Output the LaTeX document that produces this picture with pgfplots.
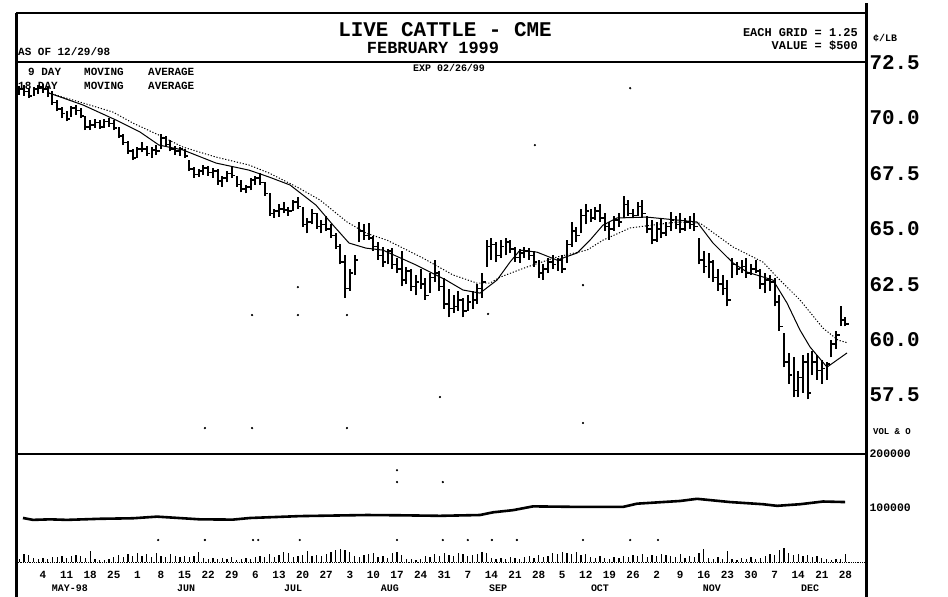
\documentclass[border=0pt]{standalone}
\usepackage{pgfplots}
\pgfplotsset{compat=1.18}
\usepackage{pgfplotstable}
\usepackage{fontspec}
\setmainfont{Liberation Serif}
\newfontfamily\lmono{Liberation Mono}

\pgfdeclareplotmark{closetick}{\pgfpathmoveto{\pgfpoint{0pt}{0pt}}\pgfpathlineto{\pgfpoint{3.6bp}{0pt}}\pgfusepathqstroke}

% t = trading days since May 4 1998; high, low, close (cents/lb); volume (contracts)
\pgfplotstableread{
t h l c v
-5 71.45 71.05 71.30 5600
-4 71.50 71.00 71.20 14800
-3 71.35 70.90 71.00 13000
-2 71.40 71.00 71.30 7400
-1 71.50 71.10 71.40 5600
0 71.55 71.15 71.30 7400
1 71.40 70.95 71.10 5600
2 71.20 70.60 70.70 9300
3 70.80 70.30 70.40 9300
4 70.50 70.00 70.20 11100
5 70.30 69.85 69.95 7400
6 70.55 70.05 70.45 11100
7 70.60 70.15 70.35 13000
8 70.45 70.00 70.10 11100
9 70.10 69.45 69.60 7400
10 69.90 69.45 69.70 20400
11 69.95 69.55 69.80 5600
12 69.90 69.50 69.60 3700
13 69.95 69.55 69.85 3700
14 70.00 69.60 69.75 5600
15 69.90 69.45 69.55 9300
16 69.60 69.10 69.20 13000
17 69.30 68.80 68.90 9300
18 68.95 68.40 68.50 14800
19 68.60 68.10 68.20 11100
20 68.70 68.20 68.60 16700
21 68.90 68.45 68.60 11100
22 68.75 68.30 68.40 14800
23 68.70 68.20 68.55 9300
24 68.80 68.35 68.50 16700
25 69.30 68.60 69.10 11100
26 69.20 68.70 68.80 9300
27 69.00 68.50 68.60 14800
28 68.75 68.35 68.50 11100
29 68.70 68.30 68.60 9300
30 68.60 68.20 68.30 11100
31 68.10 67.60 67.70 9300
32 67.80 67.30 67.45 11100
33 67.70 67.35 67.60 18500
34 67.90 67.45 67.75 7400
35 67.85 67.40 67.55 5600
36 67.75 67.30 67.60 7400
37 67.70 67.00 67.15 5600
38 67.40 66.90 67.30 7400
39 67.60 67.10 67.50 5600
40 67.80 67.30 67.40 9300
41 67.40 66.90 67.00 3700
42 67.20 66.65 66.80 5600
43 67.00 66.60 66.90 7400
44 67.30 66.75 67.20 5600
45 67.40 67.00 67.30 9300
46 67.50 67.00 67.10 11100
47 67.10 66.50 66.60 9300
48 66.60 65.60 65.70 14800
49 65.90 65.50 65.80 9300
50 66.10 65.55 65.90 13000
51 66.20 65.70 65.85 18500
52 66.00 65.60 65.80 16700
53 66.30 65.80 66.20 9300
54 66.45 65.90 66.00 11100
55 66.00 65.10 65.20 13000
56 65.50 64.80 65.30 20400
57 65.90 65.20 65.70 11100
58 65.70 65.00 65.10 13000
59 65.40 64.80 65.20 11100
60 65.60 64.90 65.00 14800
61 65.20 64.60 64.70 18500
62 64.80 64.10 64.20 22200
63 64.30 63.40 63.50 24100
64 63.80 61.90 62.30 22200
65 63.20 62.20 63.00 18500
66 63.80 62.90 63.60 11100
67 65.30 64.40 64.90 9300
68 65.20 64.50 64.70 13000
69 65.25 64.50 64.60 14800
70 64.70 64.00 64.20 16700
71 64.40 63.60 63.80 9300
72 64.20 63.30 63.50 11100
73 64.10 63.40 64.00 7400
74 64.15 63.20 63.40 16700
75 63.70 63.00 63.20 18500
76 64.00 62.40 62.70 13000
77 63.30 62.50 63.10 5600
78 63.20 62.20 62.40 5600
79 62.90 62.00 62.60 3700
80 63.20 62.30 62.50 5600
81 62.80 61.80 62.00 11100
82 63.00 62.10 62.80 9300
83 63.60 62.60 63.00 14800
84 63.10 62.20 62.40 11100
85 62.80 61.40 61.60 16700
86 62.30 61.00 61.40 13000
87 62.00 61.20 61.50 11100
88 62.20 61.30 61.80 16700
89 61.90 61.00 61.30 14800
90 62.00 61.30 61.70 11100
91 62.20 61.40 61.80 13000
92 62.50 61.60 62.30 14800
93 63.00 61.90 62.60 18500
94 64.50 63.30 64.20 16700
95 64.60 63.60 64.30 7400
96 64.40 63.50 63.80 5600
97 64.50 63.70 64.20 7400
98 64.60 63.80 64.40 5600
99 64.50 63.90 64.10 9300
100 64.20 63.50 63.70 7400
101 64.10 63.45 63.90 5600
102 64.20 63.70 64.00 9300
103 64.15 63.60 63.80 11100
104 64.00 63.30 63.50 7400
105 63.60 62.80 63.00 13000
106 63.40 62.70 63.20 9300
107 63.70 63.00 63.50 11100
108 63.80 63.20 63.40 16700
109 63.70 63.10 63.60 14800
110 63.80 63.00 63.20 18500
111 64.50 63.45 64.30 16700
112 65.30 64.20 64.90 14800
113 65.10 64.40 64.70 18500
114 65.90 64.80 65.60 13000
115 66.10 65.20 65.80 14800
116 65.90 65.30 65.50 9300
117 66.00 65.40 65.80 7400
118 66.10 65.30 65.50 11100
119 65.70 64.90 65.10 7400
120 65.30 64.50 65.00 5600
121 65.60 64.90 65.40 9300
122 65.70 65.10 65.30 7400
123 66.50 65.50 66.10 11100
124 66.30 65.60 65.70 9300
125 65.90 65.50 65.60 13000
126 66.20 65.60 66.00 11100
127 66.30 65.50 65.70 14800
128 65.60 64.80 65.00 9300
129 65.40 64.30 64.50 13000
130 65.30 64.40 65.00 11100
131 65.50 64.60 64.80 14800
132 65.30 64.70 65.10 13000
133 65.75 64.90 65.40 11100
134 65.60 65.00 65.20 9300
135 65.70 64.80 65.00 14800
136 65.50 64.90 65.30 7400
137 65.60 65.00 65.20 11100
138 65.70 64.90 65.10 9300
139 64.60 63.40 63.60 16700
140 64.00 63.00 63.30 24100
141 63.90 62.80 63.50 7400
142 63.60 62.60 62.80 5600
143 63.20 62.20 62.50 9300
144 62.90 62.00 62.30 5600
145 62.70 61.50 61.80 20400
146 63.70 62.80 63.40 5600
147 63.50 62.90 63.20 3700
148 63.60 63.00 63.30 7400
149 63.70 62.80 63.00 5600
150 63.40 62.90 63.20 9300
151 63.60 63.00 63.10 5600
152 63.20 62.30 62.50 7400
153 63.00 62.10 62.70 11100
154 62.90 62.20 62.60 14800
155 62.80 61.50 61.70 13000
156 62.00 60.40 60.60 22200
157 60.30 58.75 59.00 25900
158 59.40 58.00 58.40 16700
159 59.20 57.40 57.70 13000
160 58.60 57.40 58.30 14800
161 59.30 57.60 59.00 11100
162 59.40 57.30 57.60 13000
163 59.50 58.40 59.00 9300
164 59.30 58.20 58.60 11100
165 59.10 58.00 58.70 7400
166 59.00 58.20 58.90 5600
167 60.00 59.20 59.80 3700
168 60.40 59.60 60.20 5600
169 61.50 60.60 60.90 5600
170 61.00 60.60 60.70 14800
}\bars

% 9 day moving average
\pgfplotstableread{
t p
1.27 71.13
8.47 70.59
15.47 69.91
20.55 69.37
24.58 68.78
29.66 68.56
36.65 67.97
43.64 67.65
47.88 67.34
52.33 66.98
57.84 66.07
61.44 65.17
64.83 64.36
68.43 64.13
72.03 64.04
79.03 63.37
85.38 62.69
88.98 62.24
92.58 62.10
96.19 62.69
98.94 63.50
101.06 64.04
104.66 63.95
108.90 63.59
113.14 63.91
115.89 64.49
118.64 65.17
121.61 65.49
127.97 65.53
138.56 65.31
141.95 64.36
146.19 63.46
149.15 63.05
154.66 62.69
157.63 61.65
160.38 60.43
162.50 59.67
166.10 58.76
170.34 59.40
}\manine

% 18 day moving average
\pgfplotstableread{
t p
1.27 71.13
8.47 70.68
14.83 70.27
19.07 69.77
24.58 69.23
29.66 68.69
36.65 68.24
43.64 67.88
47.88 67.52
54.24 66.84
58.69 66.30
64.41 65.31
68.43 64.81
72.88 64.49
80.51 63.68
86.86 62.92
91.95 62.55
94.70 62.55
96.82 62.82
102.54 63.28
108.90 63.73
115.25 64.04
118.64 64.49
124.36 65.04
134.32 65.31
139.19 65.26
146.19 64.18
152.54 63.50
155.51 62.82
160.38 61.79
165.25 60.52
168.43 59.98
170.55 59.85
}\maeighteen

% open interest
\pgfplotstableread{
t oi
-4.24 81500
-2.12 78000
1.48 79000
5.08 78000
12.08 80000
19.07 81000
24.15 84000
33.26 79000
40.25 78500
43.86 81500
54.45 85000
61.44 86000
68.64 87000
75.64 86500
84.11 85500
92.58 87000
95.34 92000
99.58 96000
103.81 103000
113.77 102000
122.88 102000
125.85 108000
134.96 113000
138.56 117000
145.55 111000
152.54 107000
155.51 104000
160.38 107000
165.25 112000
169.92 111000
}\oi

\begin{document}
\begin{tikzpicture}
\useasboundingbox (0bp,0bp) rectangle (948bp,597bp);

% ---------- price panel ----------
\begin{axis}[at={(16bp,143bp)}, anchor=south west, scale only axis,
  width=850bp, height=392bp,
  xmin=-5.72, xmax=174.36, ymin=54.84, ymax=72.53,
  axis line style={draw=none}, xtick=\empty,
  ytick={57.5,60,62.5,65,67.5,70,72.5},
  yticklabels={57.5,60.0,62.5,65.0,67.5,70.0,72.5},
  yticklabel pos=right, major tick length=0pt,
  yticklabel style={font=\lmono\bfseries\fontsize{21}{21}\selectfont},
  clip=false]
\addplot[draw=none, mark=none, forget plot,
  error bars/.cd, y dir=plus, y explicit, error mark=none,
  error bar style={draw=black, solid, line width=2.0bp}]
  table[x=t, y=l, y error expr=\thisrow{h}-\thisrow{l}] {\bars};
\addplot[black, only marks, mark=closetick, mark options={line width=1.6bp}]
  table[x=t, y=c] {\bars};
\addplot[black, line width=1.0bp, no marks] table[x=t, y=p] {\manine};
\addplot[black, line width=1.0bp, dash pattern=on 1.2bp off 1.8bp, no marks]
  table[x=t, y=p] {\maeighteen};
\addplot[black, only marks, mark=*, mark size=0.9bp] coordinates {
 (54.0,62.37) (44.3,61.11) (54.0,61.11) (64.4,61.11)
 (34.3,56.01) (44.3,56.01) (64.4,56.01) (84.1,57.41)
 (94.3,61.16) (104.2,68.78) (124.4,71.35) (114.4,62.46) (114.4,56.24)};
\end{axis}

% ---------- volume / open interest panel ----------
\begin{axis}[at={(16bp,35bp)}, anchor=south west, scale only axis,
  width=850bp, height=108bp,
  xmin=-5.72, xmax=174.36, ymin=0, ymax=200000,
  axis line style={draw=none}, major tick length=0pt,
  scaled y ticks=false,
  ytick={100000,200000}, yticklabels={100000,200000},
  yticklabel pos=right,
  yticklabel style={font=\lmono\bfseries\fontsize{11.5}{11.5}\selectfont},
  xtick={0,5,...,170},
  xticklabels={4,11,18,25,1,8,15,22,29,6,13,20,27,3,10,17,24,31,7,14,21,28,5,12,19,26,2,9,16,23,30,7,14,21,28},
  xticklabel style={font=\lmono\bfseries\fontsize{11}{11}\selectfont, yshift=-6bp},
  extra x ticks={5.7,30.3,53.0,73.5,96.4,118.0,141.7,162.5},
  extra x tick labels={MAY-98,JUN,JUL,AUG,SEP,OCT,NOV,DEC},
  extra x tick style={xticklabel style={font=\lmono\bfseries\fontsize{10}{10}\selectfont, yshift=-13bp}},
  clip=false]
\addplot[ycomb, black, line width=1.3bp, no marks] table[x=t, y=v] {\bars};
\addplot[black, line width=2.6bp, no marks] table[x=t, y=oi] {\oi};
\addplot[black, only marks, mark=*, mark size=0.9bp] coordinates {
 (24.4,40700) (34.3,40700) (44.5,40700) (45.6,40700) (54.4,40700)
 (75.0,40700) (84.7,40700) (90.0,40700) (95.1,40700) (100.4,40700)
 (114.4,40700) (124.4,40700) (130.3,40700)
 (75.0,148000) (84.7,148000) (75.0,170000)};
\end{axis}

\begin{scope}[x=1bp,y=1bp]
% ---------- frame ----------
\draw[line width=3bp] (16,0) -- (16,584);
\draw[line width=3bp] (866,0) -- (866,594);
\draw[line width=1.5bp] (16,584) -- (866,584);
\draw[line width=1.2bp] (16,535) -- (866,535);
\draw[line width=1.2bp] (16,143) -- (866,143);
\draw[line width=0.8bp, densely dotted] (16,35) -- (866,35);

% ---------- header text ----------
\node[font=\lmono\bfseries\fontsize{21}{21}\selectfont, inner sep=0pt] at (445,567) {LIVE CATTLE - CME};
\node[font=\lmono\bfseries\fontsize{17}{17}\selectfont, inner sep=0pt] at (433,549) {FEBRUARY 1999};
\node[font=\lmono\bfseries\fontsize{11}{11}\selectfont, inner sep=0pt, anchor=west] at (18,545) {AS OF 12/29/98};
\node[font=\lmono\bfseries\fontsize{12}{12}\selectfont, inner sep=0pt, anchor=east] at (858,564) {EACH GRID = 1.25};
\node[font=\lmono\bfseries\fontsize{12}{12}\selectfont, inner sep=0pt, anchor=east] at (858,551) {VALUE = \$500};
\node[font=\lmono\bfseries\fontsize{10}{10}\selectfont, inner sep=0pt, anchor=west] at (413,529) {EXP 02/26/99};
\node[font=\lmono\bfseries\fontsize{11}{11}\selectfont, inner sep=0pt, anchor=west] at (28,525) {9 DAY};
\node[font=\lmono\bfseries\fontsize{11}{11}\selectfont, inner sep=0pt, anchor=west] at (84,525) {MOVING};
\node[font=\lmono\bfseries\fontsize{11}{11}\selectfont, inner sep=0pt, anchor=west] at (148,525) {AVERAGE};
\node[font=\lmono\bfseries\fontsize{11}{11}\selectfont, inner sep=0pt, anchor=west] at (18,511) {18 DAY};
\node[font=\lmono\bfseries\fontsize{11}{11}\selectfont, inner sep=0pt, anchor=west] at (84,511) {MOVING};
\node[font=\lmono\bfseries\fontsize{11}{11}\selectfont, inner sep=0pt, anchor=west] at (148,511) {AVERAGE};
\node[font=\lmono\bfseries\fontsize{10}{10}\selectfont, inner sep=0pt, anchor=west] at (873,559) {¢/LB};
\node[font=\lmono\bfseries\fontsize{9}{9}\selectfont, inner sep=0pt, anchor=west] at (873,165) {VOL \& O};
\end{scope}
\end{tikzpicture}
\end{document}
